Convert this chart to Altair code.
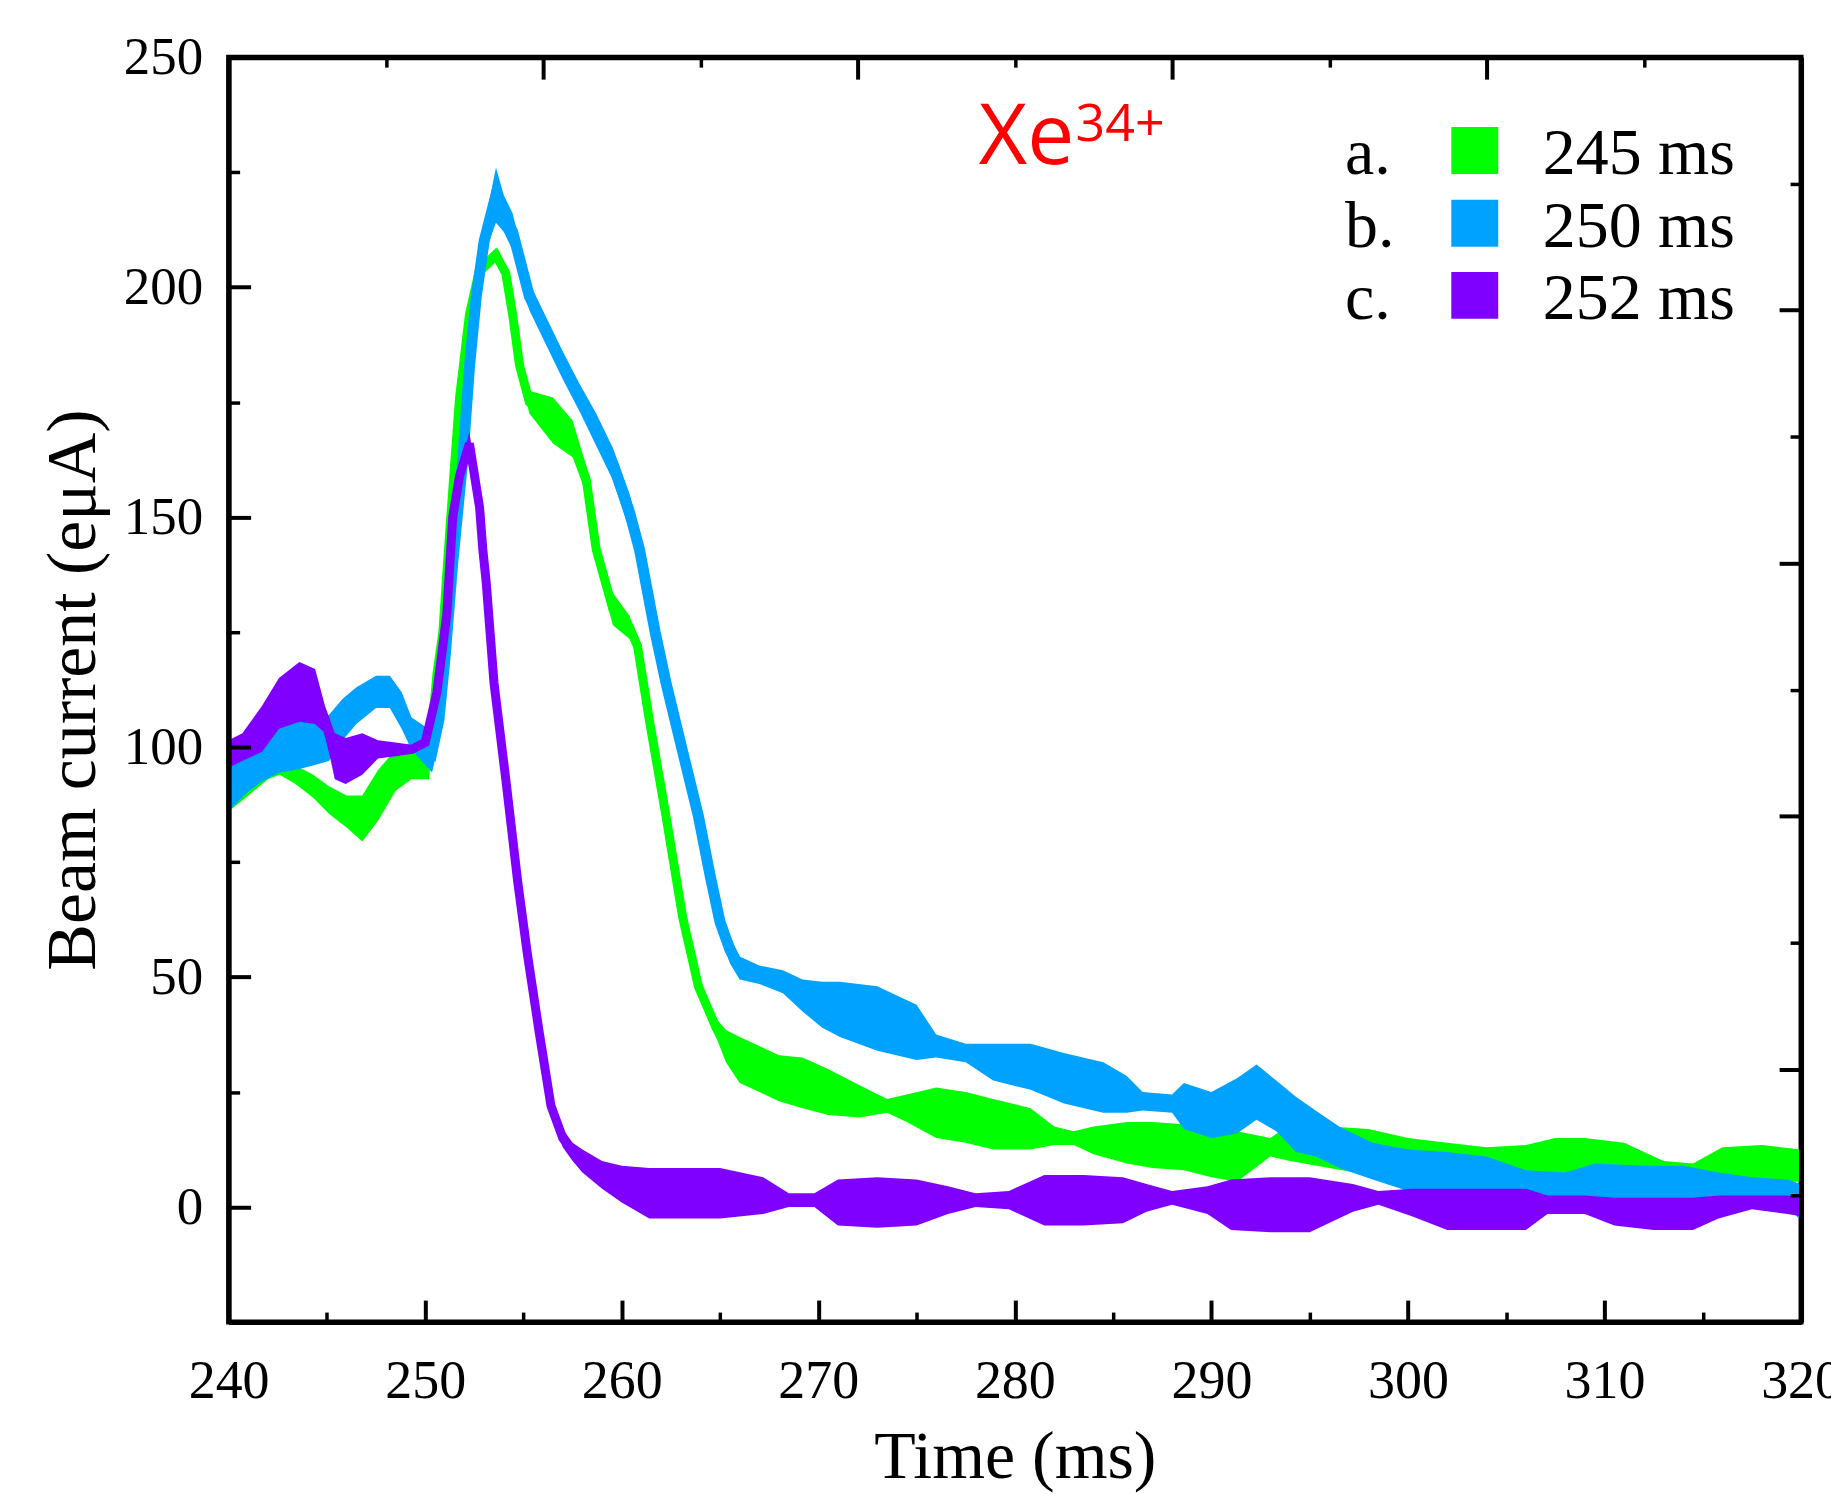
import altair as alt
import pandas as pd

# ---------------- data ----------------
# series a : 245 ms (green)  -- time, centre value, half-width of noise band
a_t = [240.0, 241.0, 242.0, 242.6, 243.4, 244.3, 245.1, 246.0, 246.8, 247.6, 248.5, 249.3, 250.2,
       250.6, 250.9, 251.25, 251.75, 252.25, 252.75, 253.6, 254.1, 254.45, 254.8, 255.3, 256.5,
       257.5, 258.2, 258.7, 259.55, 260.4, 260.8, 261.4, 262.25, 263.1, 263.9, 264.8, 265.3, 266.0,
       267.0, 268.0, 269.2, 270.5, 272.1, 273.5, 274.5, 276.0, 277.5, 278.9, 280.8, 282.0, 283.0,
       284.0, 285.7, 287.0, 288.6, 290.0, 291.3, 293.0, 294.0, 296.0, 298.0, 300.0, 302.0, 304.0,
       306.0, 307.5, 309.0, 311.0, 313.0, 314.5, 316.0, 318.0, 320.0]
a_mid = [89, 91.5, 95, 96, 94, 91.5, 88.5, 86, 84.5, 89.5, 95, 97, 97,
         116, 125, 147, 176, 194, 203.5, 207, 203, 194, 183, 175, 171,
         167, 158, 143, 130, 126, 122, 106, 85, 63, 48, 39, 35, 32,
         30, 28, 27, 25, 23, 22, 21.5, 20.5, 19.5, 18, 17, 15.5, 15,
         14.5, 14, 13.5, 13, 11.5, 11, 13, 14, 13, 12, 11, 10, 9,
         9, 10.5, 10.5, 10, 7, 6.5, 9, 9.5, 9]
a_spread = [3, 2, 2, 2, 2, 2.5, 3, 3.5, 5, 5.5, 4.5, 4, 4,
            2, 1.5, 1.5, 1.5, 1.5, 1.5, 1.5, 1.5, 1.5, 1.5, 2.5, 5,
            4, 3, 3, 3.5, 2.5, 2, 1.5, 1.5, 1.5, 1.5, 2, 3.5, 5,
            5, 5, 5.5, 5, 3.5, 1.5, 3, 5.5, 5.5, 5.5, 4.5, 2, 1.5,
            3, 4.5, 5, 5, 5, 5.5, 2, 4, 4.5, 5, 4, 4, 4,
            4.5, 4.5, 4.5, 4, 3, 3, 4, 4, 3.5]

# series b : 250 ms (blue)
b_t = [240.0, 240.9, 241.7, 242.6, 243.4, 244.3, 245.1, 245.8, 246.5, 247.5, 248.2, 248.8, 249.3,
       249.8, 250.35, 250.7, 251.0, 251.4, 251.9, 252.26, 252.6, 253.0, 253.6, 254.0, 254.45, 255.3,
       256.15, 257.0, 257.85, 258.7, 259.55, 260.4, 260.9, 261.7, 262.25, 263.1, 263.9, 264.5, 265.0,
       265.5, 266.0, 267.0, 268.2, 269.2, 270.2, 271.1, 273.0, 275.0, 276.0, 277.5, 278.9, 280.8,
       282.5, 284.5, 285.7, 286.5, 288.0, 288.6, 290.0, 291.3, 292.3, 293.3, 294.3, 295.3, 296.5,
       298.2, 300.0, 302.0, 304.0, 306.0, 308.0, 309.5, 312.0, 314.0, 315.8, 317.5, 319.3, 320.0]
b_mid = [92, 97, 100, 101, 101, 101, 102, 106, 109, 112, 112, 108, 103,
         101, 99, 106, 119, 140, 162, 183, 198, 210, 220, 216, 212, 198,
         190.5, 183, 176, 169, 161.5, 151, 143, 125, 114, 99, 85, 72, 62,
         56, 52, 50.5, 49, 46, 44, 43, 41, 38, 35, 33.5, 31.5, 30.5,
         28, 26, 24.5, 23, 22.5, 22, 20, 22, 25, 22, 18, 16, 13,
         10, 8, 7, 6, 5, 4.5, 4, 3.5, 3.5, 3.5, 3.5, 3, 1]
b_spread = [6, 7, 7.5, 6.5, 6, 5, 5, 4.5, 4, 3.5, 3.5, 4, 3.5,
            4, 4.5, 5, 3, 2, 2, 2, 2.5, 3, 6, 4, 4, 3,
            3, 3, 3, 3.5, 3.5, 4, 4, 3, 3, 3, 3, 3, 3,
            3, 2.5, 2, 2.5, 3.5, 5, 6, 7, 6, 2.5, 2, 4, 5,
            5.5, 5.5, 4, 2, 2, 5, 5, 6, 6, 5.5, 6, 5, 4.5,
            4, 4.5, 5, 5, 3, 3, 5.5, 5.5, 5.5, 4, 3, 3, 4]

# series c : 252 ms (purple)
c_t = [240.0, 240.7, 241.7, 242.56, 243.6, 244.4, 244.9, 245.4, 245.95, 246.8, 247.6, 248.5, 249.3,
       250.0, 250.6, 251.1, 251.4, 251.75, 252.25, 252.77, 252.93, 253.1, 253.5, 254.1, 254.7, 255.2,
       255.8, 256.4, 257.0, 257.5, 258.0, 259.0, 260.0, 261.4, 263.0, 265.0, 267.2, 268.5, 269.8,
       271.0, 273.0, 275.0, 276.6, 278.0, 279.7, 281.5, 283.5, 285.5, 286.7, 288.0, 289.8, 291.0,
       293.0, 295.0, 297.2, 298.5, 300.2, 302.0, 304.0, 306.0, 307.1, 309.0, 310.5, 312.5, 314.5,
       315.8, 317.5, 319.3, 320.0]
c_mid = [98.5, 100, 104, 109.5, 112, 111, 106, 98, 97, 98.5, 99.5, 99.5, 99.5,
         101, 112, 129, 150, 159, 166, 152, 143, 136, 114, 93, 71, 55,
         38, 22, 15, 12, 10, 7, 5, 3, 3, 3, 2.5, 1.5, 1.5,
         1, 1, 1, 1.5, 1.5, 1.5, 1.5, 1.5, 1.5, 2, 2, 1.5, 0.5,
         0.5, 0.5, 2, 2, 1, -0.5, -0.5, -0.5, 0.5, 0.5, -1, -1.5, -1.5,
         0, 1, 0.5, 0]
c_spread = [3, 3, 5, 5.5, 6.5, 6, 3, 5, 5, 4.5, 2, 1.5, 1,
            1, 1.5, 1.5, 1.5, 1.5, 2.5, 1.5, 1.5, 1.5, 1.5, 1.5, 1.5, 1.5,
            1.5, 2, 2, 2, 2.5, 3, 4, 5.5, 5.5, 5.5, 4, 1.5, 1.5,
            5, 5.5, 5, 3, 1.5, 2, 5.5, 5.5, 5, 3, 1.5, 3, 5.5,
            6, 6, 3, 1.5, 3, 4.5, 4.5, 4.5, 2, 2, 3, 3.5, 3.5,
            2.5, 1.5, 2, 2]

legend_keys = ["a.", "b.", "c."]
legend_labels = ["245 ms", "250 ms", "252 ms"]
series_colors = ["#00FF00", "#00A2FF", "#8000FF"]

x_label_values = [240, 250, 260, 270, 280, 290, 300, 310, 320]
x_major_ticks = [250, 260, 270, 280, 290, 300, 310]
x_minor_ticks = [245, 255, 265, 275, 285, 295, 305, 315]
x_top_major = [256, 272, 288, 304]
x_top_minor = [248, 264, 280, 296, 312]
y_label_values = [0, 50, 100, 150, 200, 250]
y_major_ticks = [0, 50, 100, 150, 200]
y_minor_ticks = [25, 75, 125, 175, 225]
y_right_major = [195, 140, 85, 30]
y_right_minor = [222.5, 167.5, 112.5, 57.5, 2.5]

# ---------------- layout ----------------
W, H = 1575, 1267
SERIF = "Liberation Serif"
xs = alt.Scale(domain=[240, 320], nice=False, zero=False)
ys = alt.Scale(domain=[-25, 250], nice=False, zero=False)


def series_frame(t, mid, spread):
    return pd.DataFrame({
        "t": t,
        "mid": mid,
        "lo": [m - s for m, s in zip(mid, spread)],
        "hi": [m + s for m, s in zip(mid, spread)],
    })


def tick_axis(orient, values, size, offset, width=4, domain=False):
    return alt.Axis(orient=orient, values=values, ticks=True, tickSize=size, tickWidth=width,
                    tickColor="black", labels=False, domain=domain, domainColor="black",
                    domainWidth=5, grid=False, title=None, offset=offset, zindex=2)


x_label_axis = alt.Axis(orient="bottom", values=x_label_values, ticks=False, tickSize=0,
                        domain=True, domainColor="black", domainWidth=5, grid=False,
                        labelFont=SERIF, labelFontSize=54, labelColor="black", labelPadding=33,
                        labelFlush=False, labelOverlap=False,
                        title="Time (ms)", titleFont=SERIF, titleFontSize=68,
                        titleFontWeight="normal", titleColor="black", titlePadding=15, zindex=2)
y_label_axis = alt.Axis(orient="left", values=y_label_values, ticks=False, tickSize=0,
                        domain=True, domainColor="black", domainWidth=5, grid=False,
                        labelFont=SERIF, labelFontSize=53, labelColor="black", labelPadding=26,
                        labelOverlap=False,
                        title="Beam current (eμA)", titleFont=SERIF, titleFontSize=70,
                        titleFontWeight="normal", titleColor="black", titlePadding=14, zindex=2)

axes_x = [
    x_label_axis,
    tick_axis("top", x_major_ticks, 22, -H),
    tick_axis("top", x_minor_ticks, 10, -H, 3.5),
    tick_axis("bottom", x_top_major, 22, -H, 4, True),
    tick_axis("bottom", x_top_minor, 10, -H, 3.5),
    None,
]
axes_y = [
    y_label_axis,
    tick_axis("right", y_major_ticks, 22, -W),
    tick_axis("right", y_minor_ticks, 11, -W, 3.5),
    tick_axis("left", y_right_major, 22, -W, 4, True),
    tick_axis("left", y_right_minor, 11, -W, 3.5),
    None,
]

frames = [series_frame(a_t, a_mid, a_spread),
          series_frame(b_t, b_mid, b_spread),
          series_frame(c_t, c_mid, c_spread)]
line_widths = [9, 11, 9]

layers = []
k = 0
for df, col, lw in zip(frames, series_colors, line_widths):
    band = alt.Chart(df).mark_area(color=col, opacity=1, clip=True).encode(
        x=alt.X("t:Q", scale=xs, axis=axes_x[k]),
        y=alt.Y("lo:Q", scale=ys, axis=axes_y[k]),
        y2=alt.Y2("hi:Q"),
    )
    k += 1
    line = alt.Chart(df).mark_line(color=col, strokeWidth=lw, clip=True).encode(
        x=alt.X("t:Q", scale=xs, axis=axes_x[k]),
        y=alt.Y("mid:Q", scale=ys, axis=axes_y[k]),
    )
    k += 1
    layers += [band, line]

# ion label Xe^34+
xe_df = pd.DataFrame({"x": [278.17], "y": [226.7], "text": ["Xe"]})
sup_df = pd.DataFrame({"x": [283.09], "y": [231.8], "text": ["34+"]})
xe = alt.Chart(xe_df).mark_text(font="Open Sans", fontSize=84, color="#FF0000", align="left",
                                baseline="alphabetic").encode(
    x=alt.X("x:Q", scale=xs, axis=None), y=alt.Y("y:Q", scale=ys, axis=None), text="text:N")
sup = alt.Chart(sup_df).mark_text(font="Open Sans", fontSize=52, color="#FF0000", align="left",
                                  baseline="alphabetic").encode(
    x=alt.X("x:Q", scale=xs, axis=None), y=alt.Y("y:Q", scale=ys, axis=None), text="text:N")

# legend block (placed in data coordinates)
leg = pd.DataFrame({"key": legend_keys, "label": legend_labels})
leg["ry"] = [229.7, 213.9, 198.2]
leg["kx"] = 296.8
leg["sx"] = 303.4
leg["lx"] = 306.86
leg_keys = alt.Chart(leg).mark_text(font=SERIF, fontSize=66, color="black", align="left",
                                    baseline="alphabetic", dy=23.5).encode(
    x=alt.X("kx:Q", scale=xs, axis=None), y=alt.Y("ry:Q", scale=ys, axis=None), text="key:N")
leg_sq = alt.Chart(leg).mark_square(size=2209, opacity=1, filled=True).encode(
    x=alt.X("sx:Q", scale=xs, axis=None), y=alt.Y("ry:Q", scale=ys, axis=None),
    color=alt.Color("label:N", scale=alt.Scale(domain=legend_labels, range=series_colors),
                    legend=None))
leg_lab = alt.Chart(leg).mark_text(font=SERIF, fontSize=66, color="black", align="left",
                                   baseline="alphabetic", dy=23.5).encode(
    x=alt.X("lx:Q", scale=xs, axis=None), y=alt.Y("ry:Q", scale=ys, axis=None), text="label:N")

layers += [xe, sup, leg_keys, leg_sq, leg_lab]

chart = alt.layer(*layers).resolve_axis(x="independent", y="independent").properties(
    width=W, height=H,
    autosize=alt.AutoSizeParams(type="none"),
    padding={"left": 221, "top": 48, "right": 30, "bottom": 178},
).configure_view(stroke="black", strokeWidth=5)

chart.save("out.html", embed_options={"renderer": "svg", "actions": False})
